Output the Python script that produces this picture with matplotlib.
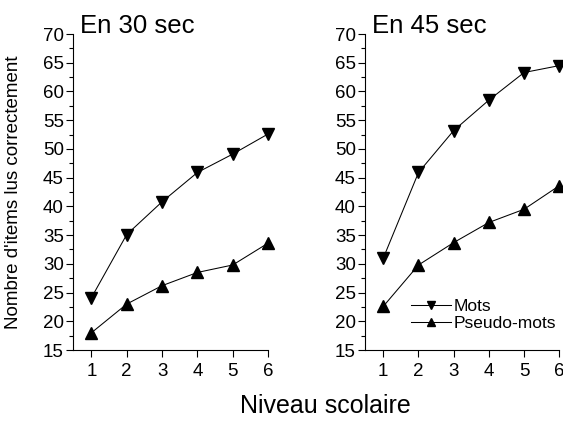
import numpy as np
import matplotlib
matplotlib.use("Agg")
import matplotlib.pyplot as plt
from matplotlib.ticker import MultipleLocator

plt.rcParams['font.family'] = ['Liberation Sans', 'DejaVu Sans']

niveaux = [1, 2, 3, 4, 5, 6]

# En 30 sec
mots_30 = [24.1, 35.1, 40.8, 45.9, 49.1, 52.6]
pseudo_30 = [18.0, 23.0, 26.2, 28.5, 29.8, 33.6]

# En 45 sec
mots_45 = [31.0, 45.9, 53.2, 58.5, 63.3, 64.5]
pseudo_45 = [22.6, 29.8, 33.7, 37.2, 39.5, 43.6]

titres = ["En 30 sec", "En 45 sec"]

fig = plt.figure(figsize=(5.63, 4.21), dpi=100)
ax1 = fig.add_axes([0.1297, 0.1686, 0.3464, 0.7506])
ax2 = fig.add_axes([0.6483, 0.1686, 0.3451, 0.7506])

for ax, mots, pseudo, titre in [(ax1, mots_30, pseudo_30, titres[0]),
                                (ax2, mots_45, pseudo_45, titres[1])]:
    ax.plot(niveaux, mots, color='black', lw=0.75, marker='v', ms=9,
            clip_on=False, label="Mots", zorder=3)
    ax.plot(niveaux, pseudo, color='black', lw=0.75, marker='^', ms=9,
            clip_on=False, label="Pseudo-mots", zorder=3)
    ax.set_xlim(0.48, 6)
    ax.set_ylim(15, 70)
    ax.set_xticks(niveaux)
    ax.yaxis.set_major_locator(MultipleLocator(5))
    ax.yaxis.set_minor_locator(MultipleLocator(2.5))
    ax.spines['top'].set_visible(False)
    ax.spines['right'].set_visible(False)
    ax.tick_params(which='major', direction='out', length=5, width=0.8, labelsize=13.5)
    ax.tick_params(which='minor', direction='out', length=3, width=0.8)
    ax.tick_params(axis='y', pad=1.5)
    ax.tick_params(axis='x', pad=4)
    ax.text(0.038, 1.004, titre, transform=ax.transAxes, fontsize=18.5,
            ha='left', va='baseline')

ax1.set_ylabel("Nombre d'items lus correctement", fontsize=13.5)
ax1.yaxis.set_label_coords(-0.26, 0.5)

ax2.legend(loc='lower left', bbox_to_anchor=(0.235, 0.06), frameon=False,
           fontsize=12.5, handlelength=2.3, handletextpad=0.2, labelspacing=0.1,
           borderpad=0, borderaxespad=0, markerscale=0.65)

fig.text(0.578, 0.035, "Niveau scolaire", fontsize=18, ha='center', va='center')

fig.savefig("out.png", dpi=100)
